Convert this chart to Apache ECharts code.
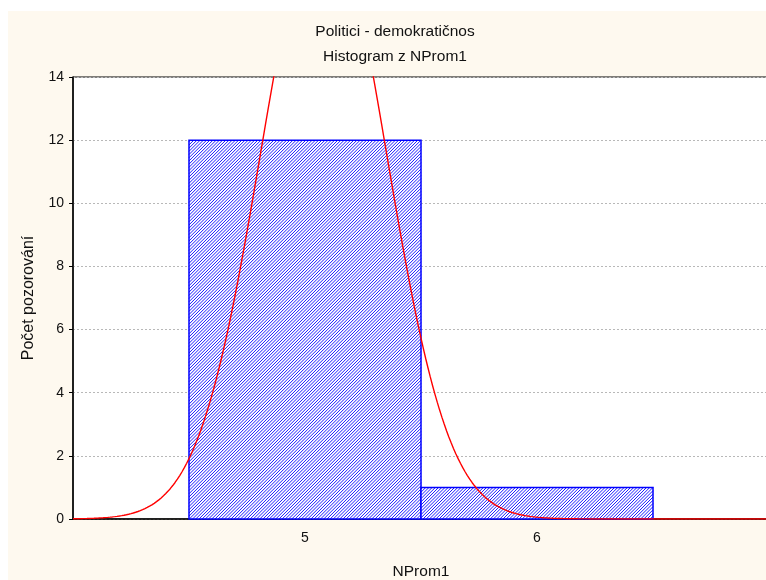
<!DOCTYPE html>
<html>
<head>
<meta charset="utf-8">
<script src="https://cdn.jsdelivr.net/npm/echarts@6/dist/echarts.min.js"></script>
<style>
  html, body { margin: 0; padding: 0; background: #ffffff; overflow: hidden; }
  #frame { position: absolute; left: 8px; top: 11px; width: 758px; height: 569px; background: #fef9ef; }
  #chart { position: absolute; left: 0; top: 0; width: 766px; height: 580px; }
</style>
</head>
<body>
<div id="frame"></div>
<div id="chart"></div>
<script>
// Histogram of NProm1: bin edges and counts
const binStarts = [4.5, 5.5];
const binEnds = [5.5, 6.5];
const binCounts = [12, 1];
const xTicks = [5, 6];
const yTicks = [0, 2, 4, 6, 8, 10, 12, 14];

// Fitted normal distribution parameters
const fitMean = 5.08;
const fitSd = 0.27;
const fitN = 13;
const binWidth = 1;

// Expected counts of the fitted normal curve across the axis range
const curveX = [];
const curveY = [];
for (let i = 0; i <= 300; i++) {
  const x = 4 + i * 0.01;
  curveX.push(x);
  const z = (x - fitMean) / fitSd;
  curveY.push(fitN * binWidth / (fitSd * Math.sqrt(2 * Math.PI)) * Math.exp(-0.5 * z * z));
}

const bins = binStarts.map((s, i) => [s, binEnds[i], binCounts[i]]);
const curve = curveX.map((x, i) => [x, curveY[i]]);

// Diagonal "/" hatch lines clipped to a rectangle
function hatchLines(x0, y0, x1, y1, step) {
  const out = [];
  for (let c = x0 + y0 + step / 2; c < x1 + y1; c += step) {
    const xa = Math.max(x0, c - y1);
    const xb = Math.min(x1, c - y0);
    if (xb <= xa) continue;
    out.push({
      type: 'line',
      shape: { x1: xa, y1: c - xa, x2: xb, y2: c - xb },
      style: { stroke: '#1a1aff', lineWidth: 1 },
      silent: true
    });
  }
  return out;
}

const chart = echarts.init(document.getElementById('chart'), null, { renderer: 'canvas' });
const font = 'Liberation Sans, Arial, Helvetica, sans-serif';

chart.setOption({
  backgroundColor: 'transparent',
  animation: false,
  graphic: [
    {
      type: 'text', x: 395, y: 32,
      style: {
        text: 'Politici - demokratičnost', fontFamily: font, fontSize: 15.5,
        fill: '#111', width: 163, overflow: 'truncate', ellipsis: '',
        textAlign: 'center', textVerticalAlign: 'middle'
      }
    },
    {
      type: 'text', x: 395, y: 57,
      style: {
        text: 'Histogram z NProm1', fontFamily: font, fontSize: 15.5, fill: '#111',
        textAlign: 'center', textVerticalAlign: 'middle'
      }
    }
  ],
  grid: {
    left: 73, top: 77, width: 696, height: 442,
    outerBoundsMode: 'none', containLabel: false,
    show: true, backgroundColor: '#ffffff', borderColor: '#000', borderWidth: 1
  },
  xAxis: {
    type: 'value', min: 4, max: 7, interval: 1,
    name: 'NProm1', nameLocation: 'middle', nameGap: 45,
    nameTextStyle: { fontFamily: font, fontSize: 15.5, color: '#111' },
    axisLine: { show: true, onZero: false, lineStyle: { color: '#000', width: 1.5 } },
    axisTick: { show: true, inside: true, length: 4, lineStyle: { color: '#000' } },
    axisLabel: {
      fontFamily: font, fontSize: 14, color: '#111', margin: 12,
      showMinLabel: false, showMaxLabel: false,
      formatter: v => (xTicks.indexOf(v) >= 0 ? String(v) : '')
    },
    splitLine: { show: false }
  },
  yAxis: {
    type: 'value', min: 0, max: 14, interval: 2,
    name: 'Počet pozorování', nameLocation: 'middle', nameGap: 36, nameRotate: 90,
    nameTextStyle: { fontFamily: font, fontSize: 16, color: '#111' },
    axisLine: { show: true, lineStyle: { color: '#000', width: 1.5 } },
    axisTick: { show: true, inside: false, length: 4, lineStyle: { color: '#000' } },
    axisLabel: {
      fontFamily: font, fontSize: 14, color: '#111', margin: 9,
      formatter: v => (yTicks.indexOf(v) >= 0 ? String(v) : '')
    },
    splitLine: { show: true, lineStyle: { color: '#b8b8b8', type: [2, 2], width: 1 } }
  },
  series: [
    {
      type: 'custom',
      data: bins,
      renderItem: function (params, api) {
        const p0 = api.coord([api.value(0), api.value(2)]);
        const p1 = api.coord([api.value(1), 0]);
        const x0 = p0[0], y0 = p0[1], x1 = p1[0], y1 = p1[1];
        return {
          type: 'group',
          children: [
            { type: 'rect', shape: { x: x0, y: y0, width: x1 - x0, height: y1 - y0 },
              style: { fill: '#ffffff' } }
          ].concat(hatchLines(x0, y0, x1, y1, 3.2)).concat([
            { type: 'rect', shape: { x: x0, y: y0, width: x1 - x0, height: y1 - y0 },
              style: { fill: 'none', stroke: '#0000ff', lineWidth: 1.5 } }
          ])
        };
      },
      encode: { x: [0, 1], y: 2 },
      z: 2
    },
    {
      type: 'line',
      data: curve,
      showSymbol: false,
      smooth: false,
      clip: true,
      lineStyle: { color: '#ff0000', width: 1.4 },
      z: 3
    }
  ]
});
</script>
</body>
</html>
